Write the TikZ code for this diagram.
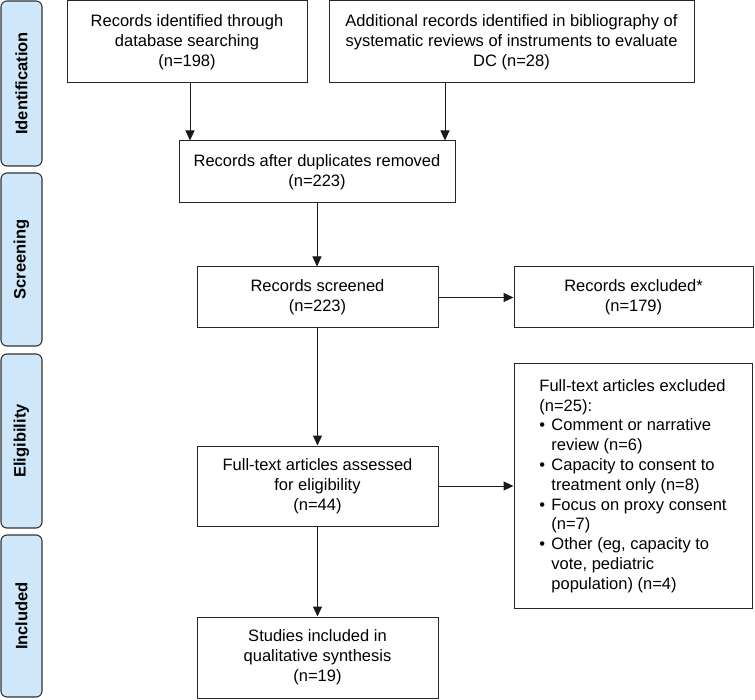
\documentclass[tikz,border=0pt]{standalone}
\usepackage{fontspec}
\setmainfont{Liberation Sans}
\usetikzlibrary{arrows.meta}
\definecolor{barfill}{RGB}{206,231,251}
\begin{document}
\begin{tikzpicture}[x=1pt,y=-1pt,
  box/.style={draw=black!85, line width=1pt, align=center, inner sep=0pt,
    font=\fontsize{16.5}{19.8}\selectfont},
  bar/.style={draw=black!80, fill=barfill, line width=1.1pt, rounded corners=6pt,
    inner sep=0pt, rotate=90, minimum height=41pt,
    font=\fontsize{16.5}{19.8}\selectfont\bfseries},
  arr/.style={-{Triangle[length=10pt,width=9pt]}, line width=1pt, draw=black!90},
  ]
\useasboundingbox (0,0) rectangle (755,700);

% stage bars
\node[bar, minimum width=165pt] (s1) at (21.5,83.5) {Identification};
\node[bar, minimum width=173pt] (s2) at (21.5,259.5) {Screening};
\node[bar, minimum width=174pt] (s3) at (21.5,441) {Eligibility};
\node[bar, minimum width=162pt] (s4) at (21.5,616) {Included};

% boxes
\node[box, minimum width=240pt, minimum height=82pt] (A) at (187,42)
  {Records identified through\\database searching\\(n=198)};
\node[box, minimum width=365pt, minimum height=82pt] (B) at (511.5,42)
  {Additional records identified in bibliography of\\systematic reviews of instruments to evaluate\\DC (n=28)};
\node[box, minimum width=276pt, minimum height=62pt] (C) at (317,172)
  {Records after duplicates removed\\(n=223)};
\node[box, minimum width=241pt, minimum height=61pt] (D) at (317.5,297.5)
  {Records screened\\(n=223)};
\node[box, minimum width=239pt, minimum height=61pt] (E) at (633.5,297.5)
  {Records excluded*\\(n=179)};
\node[box, minimum width=241pt, minimum height=80pt] (F) at (317.5,486)
  {Full-text articles assessed\\for eligibility\\(n=44)};
\node[box, align=left, minimum width=238pt, minimum height=244pt] (G) at (633,486)
  {Full-text articles excluded\\
   (n=25):\\
   \makebox[12pt][l]{\textbullet}Comment or narrative\\
   \hspace*{12pt}review (n=6)\\
   \makebox[12pt][l]{\textbullet}Capacity to consent to\\
   \hspace*{12pt}treatment only (n=8)\\
   \makebox[12pt][l]{\textbullet}Focus on proxy consent\\
   \hspace*{12pt}(n=7)\\
   \makebox[12pt][l]{\textbullet}Other (eg, capacity to\\
   \hspace*{12pt}vote, pediatric\\
   \hspace*{12pt}population) (n=4)};
\node[box, minimum width=241pt, minimum height=81pt] (H) at (317.5,657.5)
  {Studies included in\\qualitative synthesis\\(n=19)};

% connectors
\coordinate (ax) at (190,0);
\coordinate (bx) at (445,0);
\draw[arr] (A.south -| ax) -- (C.north -| ax);
\draw[arr] (B.south -| bx) -- (C.north -| bx);
\draw[arr] (C.south) -- (C.south |- D.north);
\draw[arr] (D) -- (E);
\draw[arr] (D.south) -- (F.north);
\draw[arr] (F) -- (G);
\draw[arr] (F.south) -- (H.north);
\end{tikzpicture}
\end{document}
